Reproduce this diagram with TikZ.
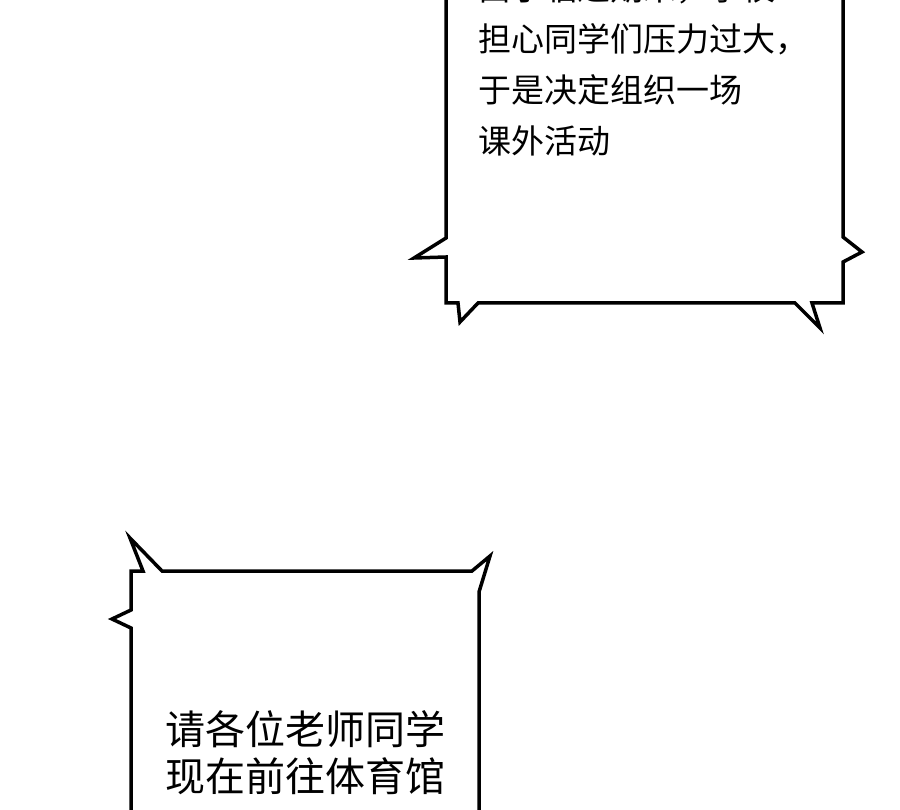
\documentclass[tikz,border=0pt]{standalone}
\usepackage{fontspec}
\newfontfamily\cjk{Noto Sans CJK SC}
\tikzset{bubble/.style={draw=black,line width=3.5pt,fill=white,line join=miter},
  bubble text/.style={align=left,anchor=north west,inner sep=0,font=\cjk}}
\begin{document}
\begin{tikzpicture}[x=1pt,y=-1pt]
  \useasboundingbox (0,0) rectangle (900,810);
  \clip (0,0) rectangle (900,810);
  % upper bubble
  \draw[bubble] (446,-20) -- (446,238) -- (414,258) -- (446,257) -- (446,303)
    -- (458,303) -- (460,322) -- (478,303) -- (795,303) -- (820,328) -- (812,303)
    -- (843,303) -- (843,262) -- (862,252) -- (843,237) -- (843,-20);
  \node[bubble text,font=\cjk\fontsize{33}{51}\selectfont] (upper) at (478,-28)
    {由于临近期末，学校\\担心同学们压力过大，\\于是决定组织一场\\课外活动};
  % lower bubble
  \draw[bubble] (131,830) -- (131,628) -- (112,619) -- (131,610) -- (131,571)
    -- (143,571) -- (130,538) -- (162,571) -- (472,571) -- (490,556) -- (479,592)
    -- (479,830);
  \node[bubble text,font=\cjk\fontsize{40}{47}\selectfont] (lower) at (165,710)
    {请各位老师同学\\现在前往体育馆};
\end{tikzpicture}
\end{document}
